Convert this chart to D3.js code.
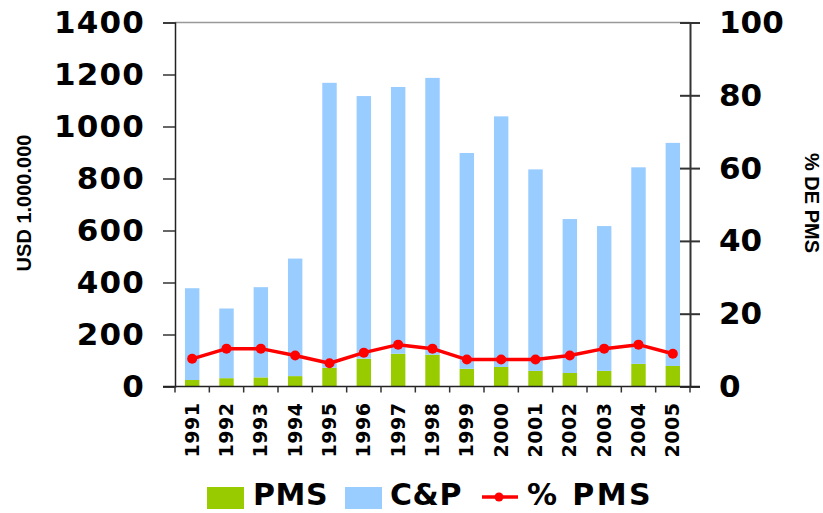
<!DOCTYPE html>
<html><head><meta charset="utf-8">
<script src="https://cdn.jsdelivr.net/npm/d3@7"></script>
<style>body{margin:0;background:#fff}svg{display:block}</style>
</head><body><svg id="c" width="823" height="513"></svg>
<script>
const years = ["1991","1992","1993","1994","1995","1996","1997","1998","1999","2000","2001","2002","2003","2004","2005"];
const pms = [25,32,35,40,72,107,126,122,68,75,60,52,60,87,79];
const cp  = [353,268,347,452,1096,1010,1026,1065,830,964,775,592,557,756,858];
const pct = [7.6,10.4,10.4,8.5,6.4,9.3,11.5,10.4,7.4,7.4,7.4,8.5,10.4,11.5,9.0];
const leftTicks = [0,200,400,600,800,1000,1200,1400];
const rightTicks = [0,20,40,60,80,100];

const svg = d3.select("#c");
const L = 175, R = 690, T = 22.5, B = 386.5;
const x = d3.scaleBand().domain(years).range([L, R]).paddingInner(0.58).paddingOuter(0.29);
const xb = d3.scaleBand().domain(years).range([L, R]);
const yL = d3.scaleLinear().domain([0,1400]).range([B, T]);
const yR = d3.scaleLinear().domain([0,100]).range([B, T]);

// top border
svg.append("line").attr("x1",L).attr("x2",R).attr("y1",T).attr("y2",T).attr("stroke","#999").attr("stroke-width",1.5);

// bars
const g = svg.append("g");
years.forEach((yr,i)=>{
  g.append("rect").attr("x", x(yr)).attr("width", x.bandwidth())
    .attr("y", yL(pms[i])).attr("height", yL(0)-yL(pms[i])).attr("fill","#99CC00");
  g.append("rect").attr("x", x(yr)).attr("width", x.bandwidth())
    .attr("y", yL(pms[i]+cp[i])).attr("height", yL(pms[i])-yL(pms[i]+cp[i])).attr("fill","#99CCFF");
});

// left axis
const la = svg.append("g").attr("transform",`translate(${L},0)`)
  .call(d3.axisLeft(yL).tickValues(leftTicks).tickSize(12).tickPadding(18).tickFormat(d3.format("d")));
la.select(".domain").attr("stroke","#222").attr("stroke-width",1.5);
la.selectAll(".tick line").attr("stroke","#333").attr("stroke-width",1.5);
la.selectAll("text").attr("font-family","DejaVu Sans").attr("font-weight","bold").attr("font-size","31px").attr("letter-spacing","1.2px").attr("fill","#000");

// right axis
const ra = svg.append("g").attr("transform",`translate(${R},0)`)
  .call(d3.axisRight(yR).tickValues(rightTicks).tickSize(10).tickPadding(19));
ra.select(".domain").attr("stroke","#333").attr("stroke-width",2);
ra.selectAll(".tick line").attr("x1",-10).attr("stroke","#333").attr("stroke-width",2);
ra.selectAll("text").attr("font-family","DejaVu Sans").attr("font-weight","bold").attr("font-size","31px").attr("fill","#000");

// x axis
const xa = svg.append("g").attr("transform",`translate(0,${B})`)
  .call(d3.axisBottom(xb).tickSize(0).tickPadding(0));
xa.select(".domain").remove();
svg.append("line").attr("x1",163).attr("x2",700).attr("y1",B).attr("y2",B).attr("stroke","#222").attr("stroke-width",1.5);
const bounds = years.map((d)=>xb(d)).concat([R]);
svg.append("g").selectAll("line").data(bounds).join("line")
  .attr("x1",d=>d).attr("x2",d=>d).attr("y1",B).attr("y2",B+6).attr("stroke","#333").attr("stroke-width",1.5);
xa.selectAll(".tick text")
  .attr("font-family","DejaVu Sans").attr("font-weight","bold").attr("font-size","19px").attr("fill","#000")
  .attr("text-anchor","end").attr("dy","0.35em").attr("letter-spacing","0.5px")
  .attr("transform","translate(0,16) rotate(-90)");

// line
const line = d3.line().x((d,i)=>xb(years[i])+xb.bandwidth()/2).y(d=>yR(d));
svg.append("path").datum(pct).attr("d",line).attr("fill","none").attr("stroke","#FF0000").attr("stroke-width",3.5).attr("stroke-linejoin","round");
svg.append("g").selectAll("circle").data(pct).join("circle")
  .attr("cx",(d,i)=>xb(years[i])+xb.bandwidth()/2).attr("cy",d=>yR(d)).attr("r",5).attr("fill","#FF0000");

// axis titles
svg.append("text").attr("transform","translate(31,203) rotate(-90)").attr("text-anchor","middle")
  .attr("font-family","Liberation Sans, Arial").attr("font-weight","bold").attr("font-size","20px").text("USD 1.000.000");
svg.append("text").attr("transform","translate(805,203) rotate(90)").attr("text-anchor","middle")
  .attr("font-family","Liberation Sans, Arial").attr("font-weight","bold").attr("font-size","20px").text("% DE PMS");

// legend
const lg = svg.append("g");
const ly = 505;
lg.append("rect").attr("x",207).attr("y",487).attr("width",37).attr("height",22).attr("fill","#99CC00");
lg.append("text").attr("x",253).attr("y",ly).attr("letter-spacing","0.6px").text("PMS");
lg.append("rect").attr("x",345).attr("y",487).attr("width",37).attr("height",22).attr("fill","#99CCFF");
lg.append("text").attr("x",390).attr("y",ly).attr("letter-spacing","0.6px").text("C&P");
lg.append("line").attr("x1",482).attr("x2",518).attr("y1",497).attr("y2",497).attr("stroke","#FF0000").attr("stroke-width",3.5);
lg.append("circle").attr("cx",499).attr("cy",497).attr("r",4.5).attr("fill","#FF0000");
lg.append("text").attr("x",527).attr("y",ly).attr("letter-spacing","2.4px").text("% PMS");
lg.selectAll("text").attr("font-family","DejaVu Sans").attr("font-weight","bold").attr("font-size","30px").attr("fill","#000");
</script></body></html>
